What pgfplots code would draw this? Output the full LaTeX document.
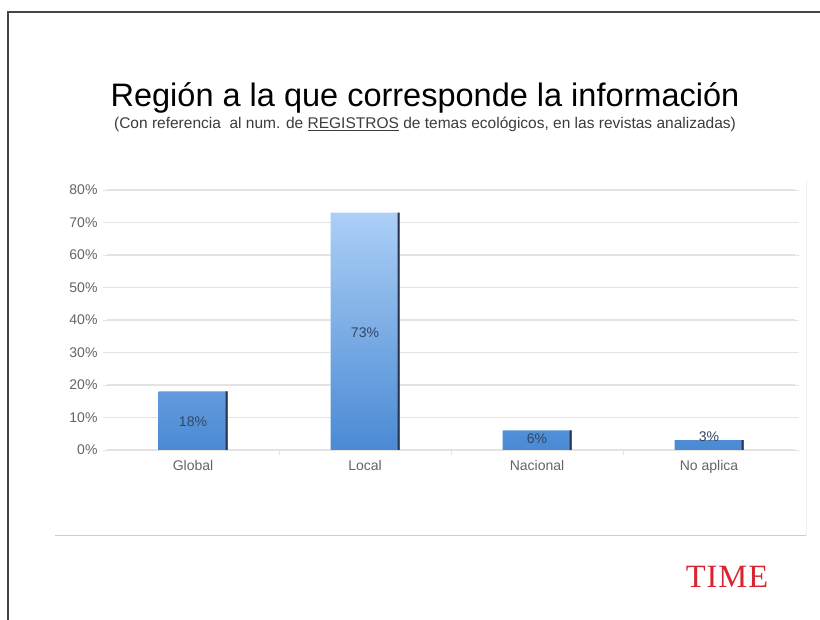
\documentclass[border=0pt]{standalone}
\usepackage{fontspec}
\setmainfont{Liberation Sans}
\newfontfamily\timefont{Liberation Serif}
\usepackage{pgfplots}
\pgfplotsset{compat=1.18}
\definecolor{barTop}{RGB}{172,207,246}
\definecolor{barBot}{RGB}{74,138,212}
\definecolor{barEdge}{RGB}{40,52,78}
\definecolor{gridc}{RGB}{228,228,228}
\definecolor{tickc}{RGB}{100,100,100}
\definecolor{lblc}{RGB}{52,70,98}
\definecolor{timered}{RGB}{214,38,50}
\begin{document}
\begin{tikzpicture}
\path[use as bounding box] (0,0) rectangle (820pt,620pt);
% slide border
\draw[color={rgb,255:red,70;green,70;blue,70}, line width=1.4pt] (8pt,0pt) -- (8pt,608pt) -- (820pt,608pt);
% chart frame
\draw[color={rgb,255:red,205;green,205;blue,205}, line width=1pt] (55pt,84pt) -- (806pt,84pt);
\draw[color={rgb,255:red,240;green,240;blue,240}, line width=0.8pt] (806pt,84pt) -- (806pt,440pt);
% titles
\node[anchor=base, font=\fontsize{32.5}{34}\selectfont, text=black] at (425pt,513pt) {Región a la que corresponde la información};
\node[anchor=base, font=\fontsize{15.5}{17}\selectfont, text={rgb,255:red,60;green,60;blue,60}] at (425pt,491pt) {(Con referencia\ \ al num. de \underline{REGISTROS} de temas ecológicos, en las revistas analizadas)};
% TIME logo
\node[anchor=base, font=\timefont\fontsize{32.5}{34}\selectfont, text=timered] at (727pt,32pt) {T\kern1ptI\kern1ptM\kern1ptE};
\begin{axis}[
  at={(107pt,170pt)}, anchor=south west,
  width=688pt, height=260pt, scale only axis,
  xmin=-0.5, xmax=3.5, ymin=0, ymax=80,
  axis line style={draw=none},
  axis x line*=bottom,
  xtick={0,1,2,3},
  xticklabels={Global,Local,Nacional,No aplica},
  minor xtick={0.5,1.5,2.5},
  major x tick style={draw=none},
  minor x tick style={color=gridc, line width=0.8pt},
  minor tick length=5pt,
  tick align=outside,
  ytick={0,10,20,30,40,50,60,70,80},
  yticklabel={\pgfmathprintnumber{\tick}\%},
  y tick style={color=gridc, line width=0.8pt},
  major tick length=4pt,
  ymajorgrids,
  grid style={color=gridc, line width=1.2pt},
  /pgf/number format/assume math mode=true,
  ticklabel style={font=\fontsize{14}{16}\selectfont, text=tickc},
  xticklabel style={yshift=-3pt},
  yticklabel style={xshift=-2pt},
  clip=false,
]
\addplot[ybar, bar width=69pt, bar shift=0pt, draw=none, top color=barTop, bottom color=barBot]
  coordinates {(0,18) (1,73) (2,6) (3,3)};
\addplot[ybar, bar width=2pt, bar shift=33.5pt, draw=none, fill=barEdge]
  coordinates {(0,18) (1,73) (2,6) (3,3)};
\addplot[draw=none, mark=none, nodes near coords, nodes near coords align=center,
  point meta=explicit symbolic,
  every node near coord/.append style={font=\fontsize{14}{16}\selectfont, text=lblc}]
  coordinates {(0,8.6)[18\%] (1,36)[73\%] (2,3.6)[6\%] (3,4.0)[3\%]};
\end{axis}
\end{tikzpicture}
\end{document}
